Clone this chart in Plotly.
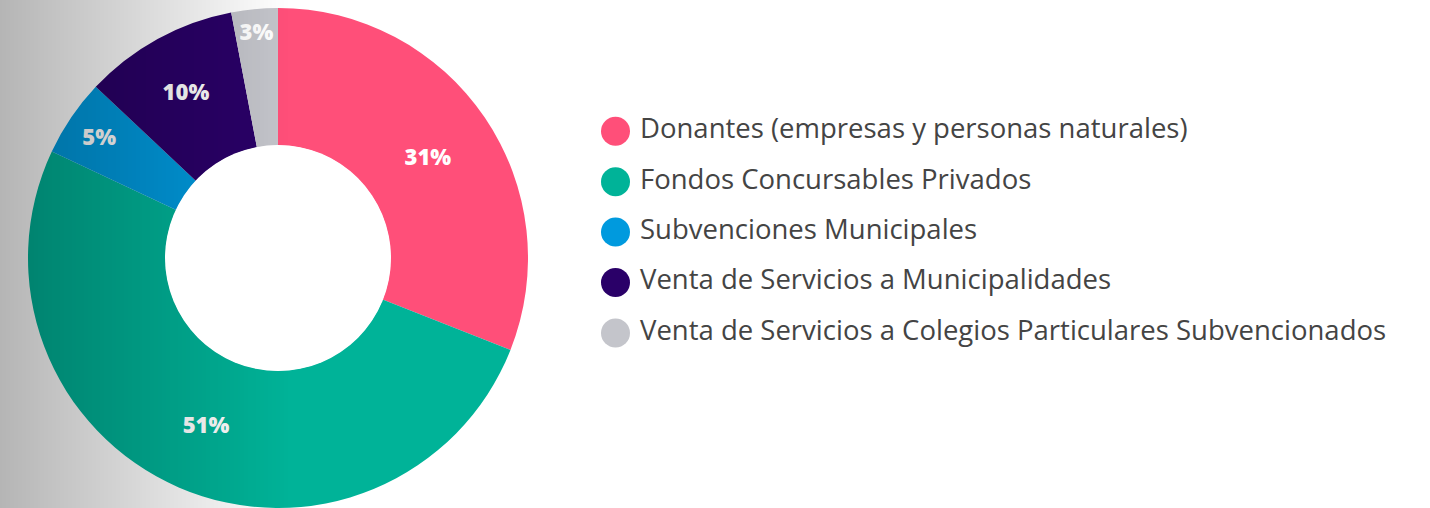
import plotly.graph_objects as go

categories = [
    "Donantes (empresas y personas naturales)",
    "Fondos Concursables Privados",
    "Subvenciones Municipales",
    "Venta de Servicios a Municipalidades",
    "Venta de Servicios a Colegios Particulares Subvencionados",
]
values = [31, 51, 5, 10, 3]
slice_colors = ["#FF4F79", "#00B398", "#009ADE", "#2A0068", "#C4C5CB"]

W, H = 1430, 508
HOLE = 0.45
# donut placement (pixels)
cx, cy, R = 278, 258, 250

fig = go.Figure()

# donut
fig.add_trace(go.Pie(
    labels=categories,
    values=values,
    hole=HOLE,
    sort=False,
    direction="clockwise",
    rotation=0,
    marker=dict(colors=slice_colors, line=dict(width=0)),
    textinfo="percent",
    texttemplate="%{percent:.0%}",
    textposition="inside",
    insidetextorientation="horizontal",
    textfont=dict(family="Open Sans", size=22, color="#FFFFFF", weight=800),
    domain=dict(x=[(cx - R) / W, (cx + R) / W], y=[(H - cy - R) / H, (H - cy + R) / H]),
    showlegend=False,
    hoverinfo="label+percent",
))

# custom legend (large circular markers)
idx = list(range(len(categories)))
fig.add_trace(go.Scatter(
    x=[615.5] * len(categories), y=idx, mode="markers",
    marker=dict(size=29, color=slice_colors, line=dict(width=0)),
    showlegend=False, hoverinfo="skip", cliponaxis=False,
))
fig.add_trace(go.Scatter(
    x=[640] * len(categories), y=idx, mode="text",
    text=categories, textposition="middle right",
    textfont=dict(family="Open Sans", size=27.5, color="#444444"),
    showlegend=False, hoverinfo="skip", cliponaxis=False,
))

# left gray gradient overlay (above the donut), 2px strips
gw = 290
sw = 2
n = gw // sw
for i in range(n):
    x0 = i * sw
    alpha = 0.29 * (1 - (i + 0.5) / n)
    fig.add_shape(type="rect", xref="x", yref="paper", x0=x0, x1=x0 + sw, y0=0, y1=1,
                  fillcolor=f"rgba(0,0,0,{alpha:.4f})", line=dict(width=0), layer="above")

# keep the donut hole white
rh = R * HOLE + 0.5
fig.add_shape(type="circle", xref="x", yref="paper",
              x0=cx - rh, x1=cx + rh, y0=(H - cy - rh) / H, y1=(H - cy + rh) / H,
              fillcolor="white", line=dict(width=0), layer="above")

step = 50.4
top = 131.3
fig.update_layout(
    width=W, height=H,
    margin=dict(l=0, r=0, t=0, b=0),
    paper_bgcolor="white", plot_bgcolor="rgba(0,0,0,0)",
    xaxis=dict(range=[0, W], domain=[0, 1], visible=False, fixedrange=True),
    yaxis=dict(range=[(H - top) / step, -top / step], domain=[0, 1], visible=False, fixedrange=True),
    uniformtext=dict(mode="show", minsize=22),
    showlegend=False,
)

fig.write_html("out.html", config={"displayModeBar": False},
               post_script="document.body.style.margin='0';document.body.style.overflow='hidden';")
